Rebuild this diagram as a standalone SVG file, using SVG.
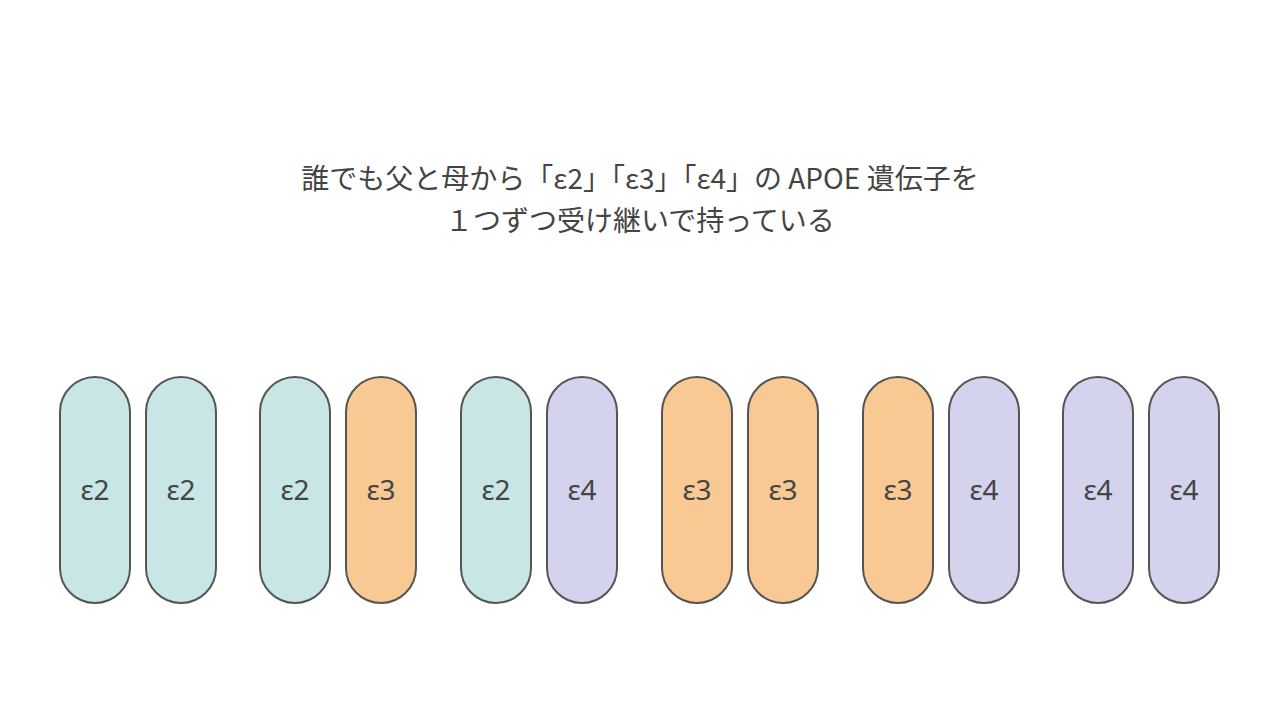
<svg xmlns="http://www.w3.org/2000/svg" width="1280" height="720" viewBox="0 0 1280 720">
<style>
.t{font-family:"Noto Sans CJK JP","Noto Sans",sans-serif;font-size:28px;fill:#444;text-anchor:middle}
.p{stroke:#555;stroke-width:2}
.a{fill:#c8e6e5}.b{fill:#f8c993}.c{fill:#d3d3ee}
.l{font-family:"Noto Sans","Noto Sans CJK JP",sans-serif;font-size:28px;fill:#444;text-anchor:middle}
</style>
<rect width="1280" height="720" fill="#fff"/>
<g id="title">
<text class="t" x="640" y="189">誰でも父と母から「ε2」「ε3」「ε4」の APOE 遺伝子を</text>
<text class="t" x="640" y="231">１つずつ受け継いで持っている</text>
</g>
<g id="n1"><rect class="p a" x="60" y="377" width="70" height="226" rx="35"/><text class="l" x="95" y="500">ε2</text></g>
<g id="n2"><rect class="p a" x="146" y="377" width="70" height="226" rx="35"/><text class="l" x="181" y="500">ε2</text></g>
<g id="n3"><rect class="p a" x="260" y="377" width="70" height="226" rx="35"/><text class="l" x="295" y="500">ε2</text></g>
<g id="n4"><rect class="p b" x="346" y="377" width="70" height="226" rx="35"/><text class="l" x="381" y="500">ε3</text></g>
<g id="n5"><rect class="p a" x="461" y="377" width="70" height="226" rx="35"/><text class="l" x="496" y="500">ε2</text></g>
<g id="n6"><rect class="p c" x="547" y="377" width="70" height="226" rx="35"/><text class="l" x="582" y="500">ε4</text></g>
<g id="n7"><rect class="p b" x="662" y="377" width="70" height="226" rx="35"/><text class="l" x="697" y="500">ε3</text></g>
<g id="n8"><rect class="p b" x="748" y="377" width="70" height="226" rx="35"/><text class="l" x="783" y="500">ε3</text></g>
<g id="n9"><rect class="p b" x="863" y="377" width="70" height="226" rx="35"/><text class="l" x="898" y="500">ε3</text></g>
<g id="n10"><rect class="p c" x="949" y="377" width="70" height="226" rx="35"/><text class="l" x="984" y="500">ε4</text></g>
<g id="n11"><rect class="p c" x="1063" y="377" width="70" height="226" rx="35"/><text class="l" x="1098" y="500">ε4</text></g>
<g id="n12"><rect class="p c" x="1149" y="377" width="70" height="226" rx="35"/><text class="l" x="1184" y="500">ε4</text></g>
<g id="connectors"/>
</svg>
